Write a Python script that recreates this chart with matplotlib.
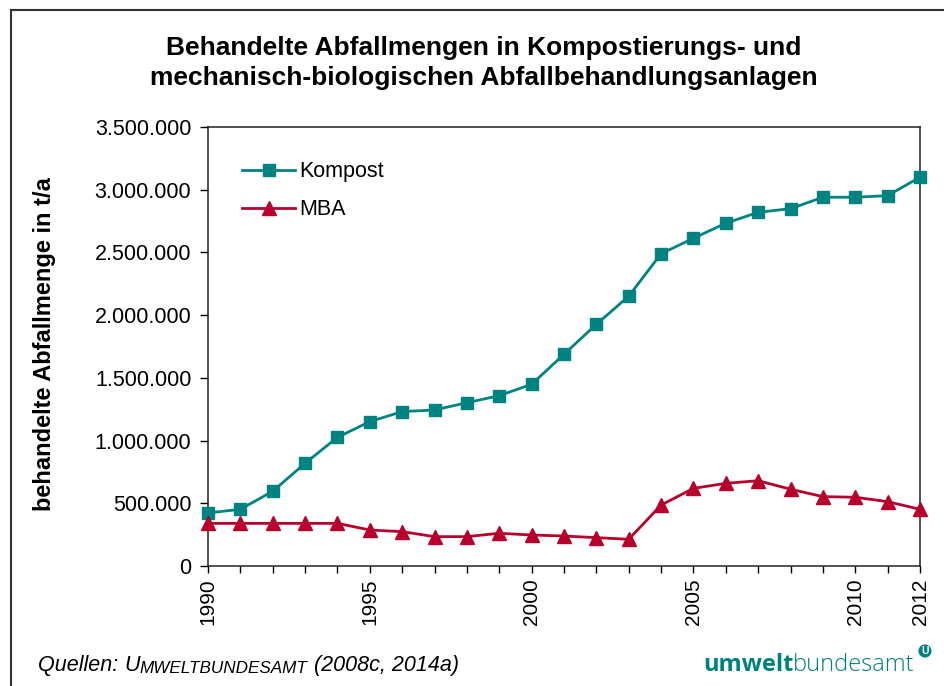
import matplotlib
matplotlib.use("Agg")
import matplotlib.pyplot as plt
from matplotlib.lines import Line2D
from matplotlib.ticker import FuncFormatter, FixedLocator

plt.rcParams['font.family'] = ['Liberation Sans', 'DejaVu Sans']

years = list(range(1990, 2013))
kompost = [423000, 452000, 596000, 819000, 1026000, 1151000, 1231000, 1244000,
           1302000, 1358000, 1449000, 1688000, 1927000, 2151000, 2490000, 2613000,
           2733000, 2820000, 2849000, 2940000, 2940000, 2953000, 3100000]
mba = [340000, 340000, 340000, 340000, 340000, 287000, 274000, 234000,
       234000, 261000, 247000, 239000, 226000, 213000, 486000, 619000,
       659000, 680000, 612000, 553000, 548000, 513000, 452000]
labeled_years = [1990, 1995, 2000, 2005, 2010, 2012]
y_ticks = [0, 500000, 1000000, 1500000, 2000000, 2500000, 3000000, 3500000]

teal = '#008381'
crimson = '#B7002B'

fig = plt.figure(figsize=(9.45, 6.86), dpi=100)
ax = fig.add_axes([208/945, 1-566/686, (920-208)/945, (566-127)/686])

ax.plot(years, kompost, color=teal, lw=2, marker='s', ms=8.5, label='Kompost',
        clip_on=False, zorder=3)
ax.plot(years, mba, color=crimson, lw=2, marker='^', ms=10, label='MBA',
        clip_on=False, zorder=3)

ax.set_xlim(1990, 2012)
ax.set_ylim(0, 3500000)
ax.yaxis.set_major_locator(FixedLocator(y_ticks))
ax.yaxis.set_major_formatter(FuncFormatter(lambda v, p: f"{int(v):,}".replace(',', '.')))
ax.set_xticks(years)
ax.set_xticklabels([str(y) if y in labeled_years else '' for y in years],
                   rotation=90, fontsize=15)
ax.tick_params(axis='y', labelsize=15.5, direction='out', length=6, width=1, pad=6)
ax.tick_params(axis='x', direction='out', length=5, width=1, pad=4)
for s in ax.spines.values():
    s.set_color('#222222')
    s.set_linewidth(1.1)

ax.set_ylabel('behandelte Abfallmenge in t/a', fontsize=17, fontweight='bold')
ax.yaxis.set_label_coords(-0.213, 0.505)

ax.legend(loc='upper left', bbox_to_anchor=(0.02, 0.966), frameon=False,
          fontsize=15.5, handlelength=2.5, handletextpad=0.2, labelspacing=0.78)

fig.text(484/945, 1-63/686,
         'Behandelte Abfallmengen in Kompostierungs- und\nmechanisch-biologischen Abfallbehandlungsanlagen',
         ha='center', va='center', fontsize=19, fontweight='bold', linespacing=1.28)

# source line with small caps author
src_kw = dict(style='italic', va='bottom', ha='left', annotation_clip=False)
s1 = fig.text(38/945, 1-671/686, 'Quellen: ', fontsize=15.5, style='italic', va='baseline')
s2 = ax.annotate('U', xy=(1, 0), xycoords=s1, fontsize=15.5, **src_kw)
s3 = ax.annotate('MWELTBUNDESAMT', xy=(1, 0), xycoords=s2, fontsize=12.3, **src_kw)
s4 = ax.annotate(' (2008c, 2014a)', xy=(1, 0), xycoords=s3, fontsize=15.5, **src_kw)

# logo wordmark
logo_col = '#00827C'
l1 = fig.text(703/945, 1-671/686, 'umwelt', fontsize=17, fontweight='bold', color=logo_col,
              family='Open Sans', va='baseline')
ax.annotate('bundesamt', xy=(1, 0), xycoords=l1, fontsize=17, color=logo_col,
            family='Open Sans', fontweight='light', va='bottom', ha='left',
            annotation_clip=False)
fig.text(925/945, 1-651/686, 'U', fontsize=7.5, fontweight='bold', color='white',
         ha='center', va='center',
         bbox=dict(boxstyle='circle,pad=0.15', fc=logo_col, ec='none'))

# outer frame
fig.add_artist(Line2D([11/945, 11/945], [0, 1-10/686], color='#333333', lw=1.5))
fig.add_artist(Line2D([11/945, 1], [1-10/686, 1-10/686], color='#333333', lw=1.5))

fig.savefig('out.png', dpi=100)
